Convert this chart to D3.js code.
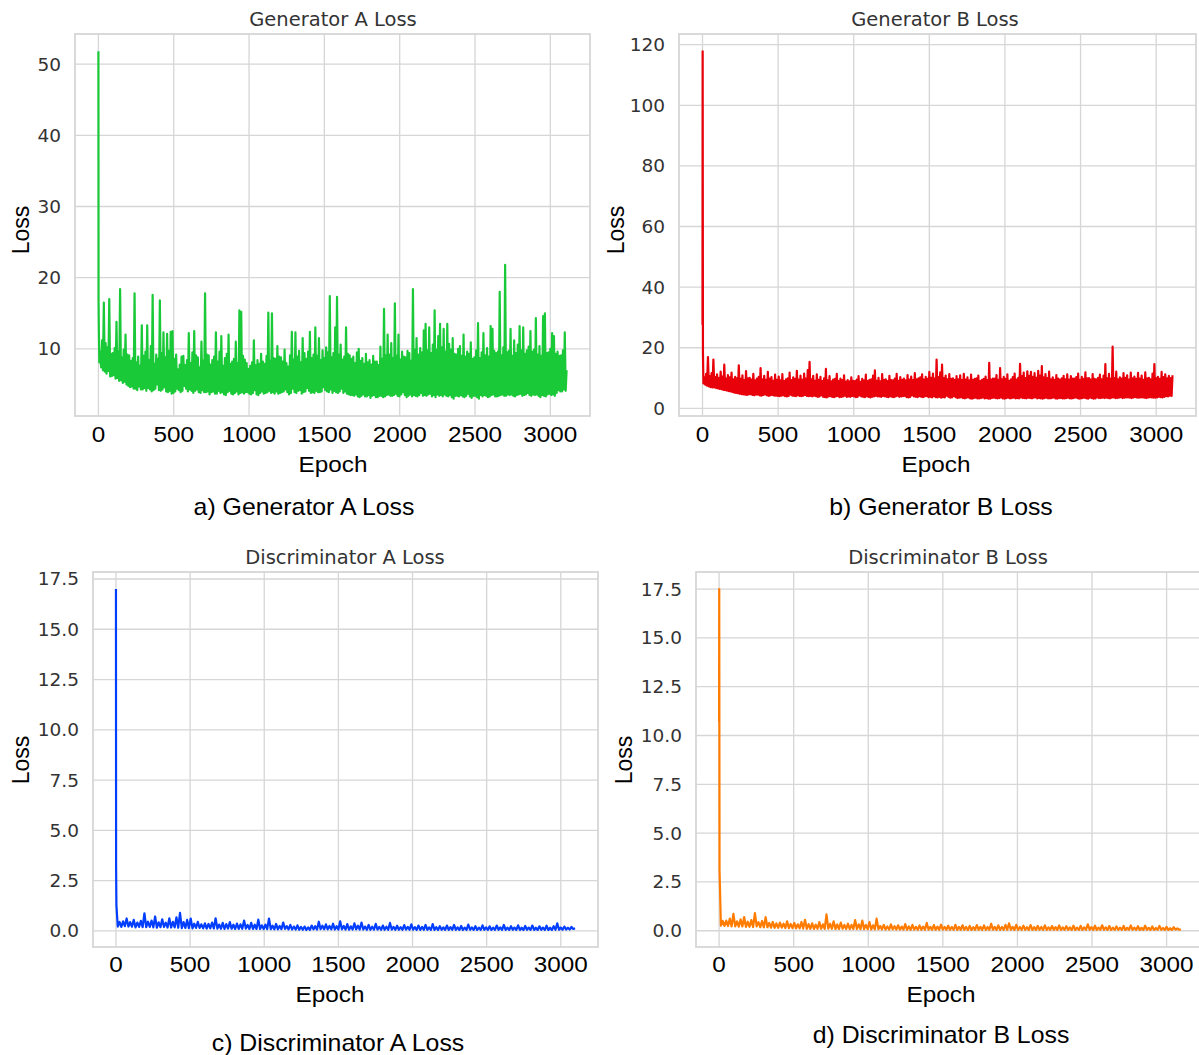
<!DOCTYPE html>
<html>
<head>
<meta charset="utf-8">
<script src="https://cdn.jsdelivr.net/npm/d3@7"></script>
<style>
  body { margin: 0; background: #ffffff; }
  svg { display: block; }
</style>
</head>
<body>
<div id="chart"></div>
<script>

//////////////////////////////////////
// Data
//////////////////////////////////////

// first few epochs are kept apart, the rest is sampled every n epochs
const headEpochs = [0, 1, 3];
const genStep = 6;
const discStep = 12;

const genAHead = [51.8, 17.1, 12.4];
const genALoss = [
  8.1, 9.6, 7.4, 11.2, 7.0, 16.5, 6.8, 10.8, 6.5, 10.2, 6.9, 17.0, 6.1, 9.3, 6.2, 9.4, 6.3, 10.1, 5.8, 13.8, 5.9, 9.6, 5.5, 18.4, 5.6, 8.8, 5.2, 9.9, 5.4, 12.0, 5.0, 9.2, 4.8, 9.1, 4.6, 8.3, 4.7, 8.7, 4.4, 17.8,
  4.4, 8.1, 4.2, 8.9, 4.7, 7.6, 4.3, 13.3, 4.3, 9.0, 4.5, 9.6, 4.1, 13.3, 4.5, 8.4, 4.3, 10.4, 4.0, 17.6, 4.2, 7.9, 4.4, 9.2, 5.0, 8.6, 4.2, 16.8, 4.1, 9.4, 4.3, 12.3, 4.6, 8.8, 4.0, 12.1, 3.9, 9.7, 4.1, 12.4,
  3.7, 12.5, 3.8, 8.6, 4.0, 9.2, 4.4, 7.1, 4.2, 7.8, 3.9, 8.9, 4.1, 9.0, 4.8, 7.7, 4.4, 8.4, 4.0, 12.2, 4.3, 8.0, 4.1, 9.5, 3.8, 12.5, 4.1, 9.1, 4.3, 8.8, 3.9, 7.4, 3.8, 11.0, 4.2, 8.3, 3.9, 17.8, 3.9, 9.2,
  4.0, 9.1, 3.6, 7.8, 3.9, 8.4, 4.0, 8.9, 3.7, 12.3, 3.7, 8.2, 4.1, 9.6, 3.8, 11.8, 3.9, 7.6, 3.6, 8.7, 3.5, 9.3, 3.9, 12.0, 4.1, 7.9, 3.7, 8.2, 3.6, 8.6, 3.8, 11.0, 4.0, 8.0, 3.6, 15.4, 3.8, 15.2, 3.9, 9.0,
  3.7, 8.5, 3.9, 8.0, 3.9, 7.2, 3.7, 7.6, 3.6, 8.1, 3.8, 11.2, 4.2, 7.7, 3.6, 8.4, 3.5, 7.9, 3.8, 9.3, 4.0, 8.2, 3.7, 7.9, 3.8, 9.0, 3.9, 15.1, 4.1, 8.3, 3.8, 15.0, 3.9, 8.7, 3.7, 8.6, 4.0, 10.4, 3.7, 8.9,
  3.8, 8.8, 3.9, 8.2, 4.0, 9.9, 4.3, 8.0, 3.9, 7.5, 3.6, 9.1, 3.8, 12.4, 4.4, 8.5, 3.9, 12.3, 3.8, 8.9, 4.1, 9.7, 4.2, 8.1, 3.7, 11.5, 3.9, 9.4, 4.0, 8.6, 4.5, 9.6, 4.1, 12.4, 3.8, 8.7, 3.9, 9.2, 3.8, 13.0,
  4.1, 9.0, 3.9, 11.5, 3.9, 8.4, 4.0, 9.8, 4.6, 8.7, 4.2, 10.2, 4.0, 9.5, 3.9, 17.4, 4.3, 8.8, 3.8, 9.4, 4.1, 13.0, 3.9, 17.3, 3.8, 9.2, 4.0, 10.6, 4.4, 8.5, 3.8, 8.9, 4.0, 13.0, 3.7, 9.3, 3.6, 9.1, 3.5, 8.6,
  3.5, 8.9, 3.4, 8.0, 3.6, 9.5, 3.3, 10.0, 3.2, 8.3, 3.4, 8.7, 3.6, 7.9, 3.3, 9.3, 3.3, 8.1, 3.5, 8.4, 3.1, 7.8, 3.4, 9.0, 3.5, 8.2, 3.2, 8.2, 3.2, 7.7, 3.4, 10.3, 3.4, 8.6, 3.2, 15.6, 3.3, 9.1, 3.5, 12.0,
  3.6, 9.2, 3.4, 10.8, 3.4, 8.7, 3.5, 16.4, 3.7, 9.0, 3.4, 12.0, 3.3, 8.5, 3.6, 9.6, 3.9, 8.9, 3.5, 8.8, 3.2, 9.7, 3.4, 9.4, 3.6, 8.3, 3.3, 18.4, 3.5, 9.9, 3.4, 11.5, 3.3, 9.2, 3.5, 10.1, 3.8, 9.5, 3.4, 12.6,
  3.5, 13.5, 3.4, 9.8, 3.6, 13.0, 3.7, 9.4, 3.3, 10.6, 3.5, 15.4, 3.2, 9.9, 3.6, 11.8, 3.4, 13.5, 3.5, 10.2, 3.3, 12.8, 3.6, 9.6, 3.4, 13.5, 3.3, 10.7, 3.5, 9.9, 3.2, 11.5, 3.0, 9.3, 3.4, 9.2, 3.4, 10.0, 3.3, 10.4,
  3.5, 9.0, 3.3, 12.0, 3.2, 8.9, 3.4, 9.6, 3.7, 9.3, 3.3, 10.9, 3.1, 8.6, 3.4, 8.8, 3.4, 9.8, 3.2, 13.6, 3.0, 8.7, 3.5, 9.5, 3.3, 12.2, 3.5, 9.1, 3.4, 10.1, 3.2, 8.9, 3.3, 13.2, 3.5, 12.8, 3.6, 9.7, 3.3, 9.4,
  3.3, 9.6, 3.4, 18.0, 3.5, 9.1, 3.6, 10.2, 3.4, 21.8, 3.4, 9.5, 3.6, 9.7, 3.5, 12.8, 3.6, 9.0, 3.4, 11.2, 3.3, 9.4, 3.5, 10.6, 3.6, 13.2, 3.7, 9.8, 3.4, 13.0, 3.5, 9.3, 3.6, 9.8, 3.8, 10.3, 3.5, 12.5, 3.4, 9.6,
  3.6, 9.9, 3.5, 14.3, 3.6, 9.2, 3.4, 10.4, 3.2, 9.0, 3.5, 14.6, 3.4, 15.0, 3.3, 9.4, 3.6, 9.5, 3.7, 10.0, 3.5, 12.2, 3.6, 11.8, 3.4, 9.3, 3.8, 9.6, 4.2, 9.0, 4.0, 9.1, 4.0, 9.8, 4.3, 12.3, 4.1, 7.0
];

const genBHead = [27.6, 117.8, 18.5];
const genBLoss = [
  8.2, 10.2, 7.8, 11.4, 7.5, 16.9, 7.2, 10.6, 7.0, 11.6, 6.9, 16.1, 6.9, 10.3, 6.7, 11.2, 6.6, 10.0, 6.4, 12.1, 6.3, 10.5, 6.1, 14.4, 6.0, 9.8, 5.8, 11.0, 5.7, 10.2, 5.6, 11.8, 5.4, 9.6, 5.2, 10.4, 5.1, 9.9, 5.0, 14.2,
  4.8, 9.7, 4.7, 10.9, 4.6, 9.3, 4.5, 12.3, 4.4, 9.9, 4.6, 10.1, 4.7, 9.5, 4.4, 11.4, 4.3, 9.2, 4.5, 9.8, 4.5, 10.4, 4.3, 13.3, 4.2, 9.6, 4.4, 10.7, 4.6, 9.4, 4.3, 12.0, 4.1, 9.8, 4.3, 10.3, 4.4, 9.1, 4.2, 11.1,
  4.2, 9.4, 4.1, 10.5, 4.0, 9.2, 4.2, 11.3, 4.3, 9.0, 4.0, 9.6, 3.9, 9.9, 4.1, 11.8, 4.5, 9.3, 4.2, 10.2, 4.1, 9.7, 4.0, 12.4, 4.3, 9.5, 4.1, 10.8, 4.0, 9.4, 4.2, 11.5, 4.4, 9.8, 4.1, 12.6, 4.0, 15.3, 4.1, 9.6,
  3.9, 10.7, 4.2, 9.1, 4.0, 11.2, 3.8, 9.4, 3.9, 10.4, 4.3, 9.0, 3.8, 9.9, 3.7, 13.0, 3.6, 9.2, 3.9, 10.6, 4.0, 8.9, 3.8, 9.5, 3.7, 9.7, 3.9, 11.4, 4.1, 9.0, 3.7, 9.8, 3.8, 9.3, 3.9, 10.9, 4.2, 8.8, 3.8, 9.3,
  3.9, 8.9, 3.8, 10.2, 4.1, 9.1, 3.9, 9.0, 3.7, 9.5, 3.8, 10.6, 4.3, 8.7, 3.9, 9.7, 3.8, 9.2, 3.7, 11.1, 4.0, 9.0, 3.8, 9.4, 3.6, 9.6, 3.8, 10.8, 3.9, 12.5, 4.2, 9.1, 3.9, 10.1, 3.9, 8.9, 3.8, 11.3, 4.1, 9.4,
  3.9, 9.6, 3.8, 9.0, 3.7, 10.7, 4.0, 9.3, 3.8, 9.2, 3.7, 9.8, 3.9, 11.4, 4.2, 9.1, 3.8, 10.3, 3.9, 9.4, 4.0, 9.8, 4.1, 9.2, 3.7, 11.0, 3.6, 9.5, 3.8, 10.5, 4.3, 9.3, 3.9, 11.6, 3.8, 9.6, 3.7, 9.9, 4.0, 10.2,
  3.8, 11.2, 3.7, 9.5, 3.9, 10.4, 4.1, 9.7, 3.7, 12.0, 3.8, 10.1, 3.6, 11.5, 4.0, 9.8, 3.7, 16.1, 3.6, 10.3, 3.8, 11.9, 3.5, 14.4, 3.7, 10.0, 3.6, 10.8, 4.2, 9.6, 3.8, 11.3, 3.5, 9.7, 3.6, 9.9, 4.0, 9.4, 3.7, 10.6,
  3.4, 9.6, 3.5, 10.9, 3.7, 9.3, 3.4, 11.4, 3.3, 9.5, 3.5, 10.2, 3.6, 9.2, 3.3, 11.1, 3.2, 9.4, 3.4, 9.7, 3.5, 9.9, 3.3, 10.8, 3.3, 9.0, 3.4, 9.4, 3.6, 9.7, 3.3, 10.5, 3.4, 9.3, 3.2, 15.0, 3.2, 9.5, 3.4, 9.8,
  3.5, 9.8, 3.4, 11.0, 3.3, 9.4, 3.4, 13.3, 3.6, 9.6, 3.3, 10.4, 3.2, 9.7, 3.4, 11.2, 3.5, 9.1, 3.3, 9.6, 3.4, 10.3, 3.5, 11.5, 3.3, 9.5, 3.4, 10.1, 3.3, 14.7, 3.6, 10.6, 3.4, 11.8, 3.4, 10.0, 3.3, 12.2, 3.5, 10.7,
  3.4, 12.0, 3.3, 10.4, 3.5, 11.6, 3.6, 10.1, 3.3, 12.4, 3.4, 10.8, 3.3, 13.9, 3.2, 10.2, 3.4, 11.3, 3.5, 10.0, 3.3, 12.1, 3.3, 9.6, 3.4, 10.2, 3.6, 9.4, 3.3, 11.0, 3.2, 9.8, 3.4, 9.5, 3.4, 9.9, 3.3, 10.7, 3.3, 9.6,
  3.4, 11.2, 3.5, 9.5, 3.3, 10.6, 3.3, 9.8, 3.4, 9.8, 3.6, 10.3, 3.4, 11.5, 3.2, 9.4, 3.3, 10.4, 3.4, 9.7, 3.5, 11.9, 3.3, 9.9, 3.2, 10.0, 3.5, 9.5, 3.4, 11.3, 3.2, 9.7, 3.3, 9.6, 3.6, 10.1, 3.4, 11.1, 3.4, 9.6,
  3.5, 10.8, 3.4, 14.6, 3.5, 9.9, 3.4, 11.4, 3.3, 9.7, 3.5, 20.4, 3.6, 10.0, 3.4, 12.1, 3.4, 9.6, 3.5, 10.2, 3.7, 9.8, 3.4, 11.6, 3.5, 10.1, 3.6, 10.9, 3.6, 9.5, 3.5, 11.8, 3.4, 9.9, 3.6, 10.5, 3.7, 9.7, 3.5, 11.7,
  3.5, 9.8, 3.6, 10.8, 3.6, 9.4, 3.5, 11.9, 3.4, 9.9, 3.5, 10.1, 3.7, 9.6, 3.6, 11.5, 3.5, 14.6, 3.5, 10.0, 3.6, 10.4, 3.8, 9.7, 3.7, 12.0, 3.6, 10.3, 3.8, 11.2, 4.0, 9.9, 3.9, 10.7, 4.2, 10.0, 4.1, 10.9
];

const discAHead = [17.0, 3.2, 1.3];
const discALoss = [
  0.22, 0.45, 0.2, 0.48, 0.24, 0.62, 0.22, 0.44, 0.21, 0.55, 0.18, 0.42, 0.2, 0.5, 0.19, 0.88, 0.19, 0.46, 0.2, 0.52, 0.18, 0.72, 0.16, 0.43, 0.19, 0.58, 0.2, 0.41, 0.17, 0.63, 0.17, 0.45, 0.18, 0.68, 0.16, 0.9, 0.14, 0.44, 0.15, 0.55,
  0.14, 0.62, 0.13, 0.36, 0.15, 0.45, 0.15, 0.33, 0.13, 0.38, 0.12, 0.35, 0.13, 0.42, 0.12, 0.63, 0.12, 0.32, 0.11, 0.4, 0.1, 0.34, 0.12, 0.44, 0.11, 0.31, 0.1, 0.37, 0.1, 0.33, 0.11, 0.52, 0.12, 0.3, 0.1, 0.4, 0.1, 0.31, 0.1, 0.56,
  0.1, 0.28, 0.09, 0.32, 0.09, 0.62, 0.09, 0.26, 0.08, 0.35, 0.08, 0.25, 0.09, 0.42, 0.1, 0.24, 0.08, 0.3, 0.07, 0.22, 0.07, 0.28, 0.06, 0.2, 0.06, 0.22, 0.05, 0.18, 0.06, 0.27, 0.08, 0.24, 0.07, 0.46, 0.09, 0.26, 0.08, 0.33, 0.08, 0.25,
  0.08, 0.36, 0.07, 0.24, 0.07, 0.48, 0.08, 0.25, 0.07, 0.34, 0.06, 0.23, 0.07, 0.38, 0.08, 0.26, 0.07, 0.42, 0.07, 0.22, 0.06, 0.3, 0.06, 0.21, 0.07, 0.35, 0.07, 0.2, 0.06, 0.27, 0.06, 0.21, 0.06, 0.4, 0.07, 0.2, 0.06, 0.26, 0.06, 0.19,
  0.06, 0.29, 0.07, 0.2, 0.06, 0.33, 0.06, 0.19, 0.05, 0.27, 0.05, 0.2, 0.06, 0.3, 0.06, 0.18, 0.05, 0.34, 0.05, 0.19, 0.05, 0.24, 0.06, 0.18, 0.05, 0.27, 0.05, 0.19, 0.06, 0.3, 0.06, 0.18, 0.05, 0.25, 0.05, 0.17, 0.05, 0.32, 0.06, 0.18,
  0.05, 0.24, 0.05, 0.17, 0.05, 0.28, 0.06, 0.18, 0.05, 0.23, 0.05, 0.17, 0.05, 0.27, 0.06, 0.18, 0.05, 0.3, 0.05, 0.17, 0.05, 0.24, 0.06, 0.17, 0.05, 0.28, 0.05, 0.16, 0.05, 0.25, 0.06, 0.17, 0.05, 0.27, 0.05, 0.16, 0.05, 0.23, 0.06, 0.17,
  0.05, 0.26, 0.05, 0.16, 0.05, 0.24, 0.06, 0.38, 0.06, 0.17, 0.06, 0.22, 0.07, 0.16, 0.07, 0.2, 0.1, 0.14
];

const discBHead = [10.7, 17.5, 3.1];
const discBLoss = [
  0.26, 0.5, 0.25, 0.52, 0.24, 0.62, 0.22, 0.86, 0.22, 0.48, 0.21, 0.58, 0.22, 0.7, 0.2, 0.46, 0.2, 0.55, 0.19, 0.9, 0.22, 0.44, 0.18, 0.5, 0.17, 0.7, 0.18, 0.4, 0.16, 0.45, 0.15, 0.38, 0.15, 0.42, 0.16, 0.36, 0.14, 0.48, 0.13, 0.35,
  0.13, 0.4, 0.12, 0.33, 0.12, 0.45, 0.11, 0.56, 0.1, 0.34, 0.1, 0.38, 0.09, 0.31, 0.1, 0.44, 0.1, 0.33, 0.09, 0.84, 0.11, 0.35, 0.1, 0.48, 0.09, 0.32, 0.09, 0.42, 0.1, 0.3, 0.09, 0.36, 0.08, 0.3, 0.09, 0.55, 0.09, 0.33, 0.08, 0.52,
  0.08, 0.3, 0.08, 0.45, 0.07, 0.28, 0.07, 0.62, 0.08, 0.24, 0.07, 0.3, 0.06, 0.22, 0.06, 0.33, 0.07, 0.23, 0.06, 0.28, 0.06, 0.21, 0.06, 0.34, 0.05, 0.22, 0.05, 0.3, 0.06, 0.2, 0.05, 0.27, 0.05, 0.21, 0.05, 0.4, 0.06, 0.2, 0.05, 0.29,
  0.05, 0.21, 0.05, 0.31, 0.06, 0.2, 0.05, 0.26, 0.05, 0.19, 0.05, 0.3, 0.04, 0.2, 0.05, 0.28, 0.05, 0.19, 0.04, 0.25, 0.04, 0.18, 0.05, 0.29, 0.05, 0.2, 0.04, 0.27, 0.04, 0.19, 0.05, 0.36, 0.05, 0.2, 0.04, 0.28, 0.04, 0.19, 0.05, 0.3,
  0.05, 0.38, 0.05, 0.2, 0.04, 0.3, 0.04, 0.19, 0.05, 0.26, 0.05, 0.18, 0.04, 0.29, 0.04, 0.18, 0.04, 0.25, 0.05, 0.19, 0.04, 0.28, 0.04, 0.17, 0.05, 0.24, 0.05, 0.18, 0.04, 0.27, 0.04, 0.17, 0.05, 0.23, 0.05, 0.17, 0.04, 0.26, 0.04, 0.16,
  0.04, 0.25, 0.04, 0.17, 0.05, 0.33, 0.05, 0.18, 0.04, 0.26, 0.04, 0.16, 0.05, 0.28, 0.05, 0.17, 0.04, 0.24, 0.04, 0.16, 0.04, 0.22, 0.05, 0.16, 0.04, 0.25, 0.04, 0.15, 0.05, 0.27, 0.05, 0.16, 0.04, 0.23, 0.04, 0.15, 0.04, 0.26, 0.05, 0.15,
  0.04, 0.22, 0.04, 0.14, 0.05, 0.25, 0.05, 0.14, 0.04, 0.2, 0.04, 0.13, 0.04, 0.18, 0.06, 0.12, 0.05, 0.08
];

// ticks and texts
const epochTicks = [0, 500, 1000, 1500, 2000, 2500, 3000];
const genATicks = [10, 20, 30, 40, 50];
const genBTicks = [0, 20, 40, 60, 80, 100, 120];
const discTicks = [0, 2.5, 5, 7.5, 10, 12.5, 15, 17.5];
const titles = ['Generator A Loss', 'Generator B Loss', 'Discriminator A Loss', 'Discriminator B Loss'];
const captions = ['a) Generator A Loss', 'b) Generator B Loss', 'c) Discriminator A Loss', 'd) Discriminator B Loss'];
const xLabel = 'Epoch';
const yLabel = 'Loss';

//////////////////////////////////////
// Layout
//////////////////////////////////////

const WIDTH = 1199;
const HEIGHT = 1055;
const GRID = '#d6d6d6';
const SEABORN = { green: '#1ac938', red: '#e8000b', blue: '#023eff', orange: '#ff7c00' };
const SANS = '"Liberation Sans", Arial, sans-serif';
const DEJAVU = '"DejaVu Sans", sans-serif';

// box: frame of the axes, the rest are text centres
const panels = [
  { head: genAHead, loss: genALoss, step: genStep, color: SEABORN.green, ticks: genATicks, fmt: d3.format('d'),
    box: { l: 75, r: 590, t: 34, b: 416 }, title: [333, 19], tickY: 434, xlab: [333, 464], ylab: [21, 230], cap: [304, 507] },
  { head: genBHead, loss: genBLoss, step: genStep, color: SEABORN.red, ticks: genBTicks, fmt: d3.format('d'),
    box: { l: 679, r: 1196, t: 34, b: 416 }, title: [935, 19], tickY: 434, xlab: [936, 464], ylab: [616, 230], cap: [941, 507] },
  { head: discAHead, loss: discALoss, step: discStep, color: SEABORN.blue, ticks: discTicks, fmt: d3.format('.1f'),
    box: { l: 93, r: 598, t: 572, b: 947 }, title: [345, 557], tickY: 964, xlab: [330, 994], ylab: [21, 760], cap: [338, 1043] },
  { head: discBHead, loss: discBLoss, step: discStep, color: SEABORN.orange, ticks: discTicks, fmt: d3.format('.1f'),
    box: { l: 696, r: 1204, t: 572, b: 947 }, title: [948, 557], tickY: 964, xlab: [941, 994], ylab: [624, 760], cap: [941, 1035] }
];

//////////////////////////////////////
// Drawing
//////////////////////////////////////

function make_points (head, loss, step) {
  let pts = head.map((v, i) => [headEpochs[i], v]);
  loss.forEach((v, i) => pts.push([(i + 1) * step, v]));
  return pts;
}

// matplotlib style autoscale: 5% margin on each side
function padded (ext) {
  let m = (ext[1] - ext[0]) * 0.05;
  return [ext[0] - m, ext[1] + m];
}

function wide_text (g, x, y, size, t) {
  // the figure text is a bit wider than plain Arial
  g.append('text')
    .attr('transform', 'translate(' + x + ',' + y + ') scale(1.08,1)')
    .attr('text-anchor', 'middle')
    .attr('dominant-baseline', 'central')
    .style('font-family', SANS)
    .style('font-size', size + 'px')
    .style('fill', '#000')
    .text(t);
}

function draw_panel (svg, p, idx) {
  let pts = make_points(p.head, p.loss, p.step);
  let b = p.box;

  let x = d3.scaleLinear().domain(padded(d3.extent(pts, d => d[0]))).range([b.l, b.r]);
  let y = d3.scaleLinear().domain(padded(d3.extent(pts, d => d[1]))).range([b.b, b.t]);

  let g = svg.append('g').attr('class', 'panel_' + idx);

  // grid
  g.append('g').selectAll('line').data(epochTicks).join('line')
    .attr('x1', d => x(d)).attr('x2', d => x(d))
    .attr('y1', b.t).attr('y2', b.b)
    .attr('stroke', GRID).attr('stroke-width', 1.3);
  g.append('g').selectAll('line').data(p.ticks).join('line')
    .attr('x1', b.l).attr('x2', b.r)
    .attr('y1', d => y(d)).attr('y2', d => y(d))
    .attr('stroke', GRID).attr('stroke-width', 1.3);

  // loss curve
  let line = d3.line().x(d => x(d[0])).y(d => y(d[1]));
  g.append('path')
    .datum(pts)
    .attr('d', line)
    .attr('fill', 'none')
    .attr('stroke', p.color)
    .attr('stroke-width', 2.2)
    .attr('stroke-linejoin', 'round');

  // frame
  g.append('rect')
    .attr('x', b.l).attr('y', b.t)
    .attr('width', b.r - b.l).attr('height', b.b - b.t)
    .attr('fill', 'none')
    .attr('stroke', GRID).attr('stroke-width', 1.8);

  // y tick labels
  g.append('g').selectAll('text').data(p.ticks).join('text')
    .attr('x', b.l - 14)
    .attr('y', d => y(d))
    .attr('text-anchor', 'end')
    .attr('dominant-baseline', 'central')
    .style('font-family', DEJAVU)
    .style('font-size', '18.5px')
    .style('fill', '#333')
    .text(d => p.fmt(d));

  // x tick labels
  epochTicks.forEach(d => wide_text(g, x(d), p.tickY, 22.5, d));

  // title
  g.append('text')
    .attr('x', p.title[0]).attr('y', p.title[1])
    .attr('text-anchor', 'middle')
    .attr('dominant-baseline', 'central')
    .style('font-family', DEJAVU)
    .style('font-size', '19.5px')
    .style('fill', '#333')
    .text(titles[idx]);

  wide_text(g, p.xlab[0], p.xlab[1], 22.5, xLabel);
  wide_text(g, p.cap[0], p.cap[1], 23, captions[idx]);

  g.append('text')
    .attr('transform', 'translate(' + p.ylab[0] + ',' + p.ylab[1] + ') rotate(-90)')
    .attr('text-anchor', 'middle')
    .attr('dominant-baseline', 'central')
    .style('font-family', SANS)
    .style('font-size', '23px')
    .style('fill', '#000')
    .text(yLabel);
}

let svg = d3.select('#chart').append('svg')
  .attr('width', WIDTH)
  .attr('height', HEIGHT);

svg.append('rect').attr('width', WIDTH).attr('height', HEIGHT).attr('fill', '#fff');

panels.forEach((p, i) => draw_panel(svg, p, i));

</script>
</body>
</html>
